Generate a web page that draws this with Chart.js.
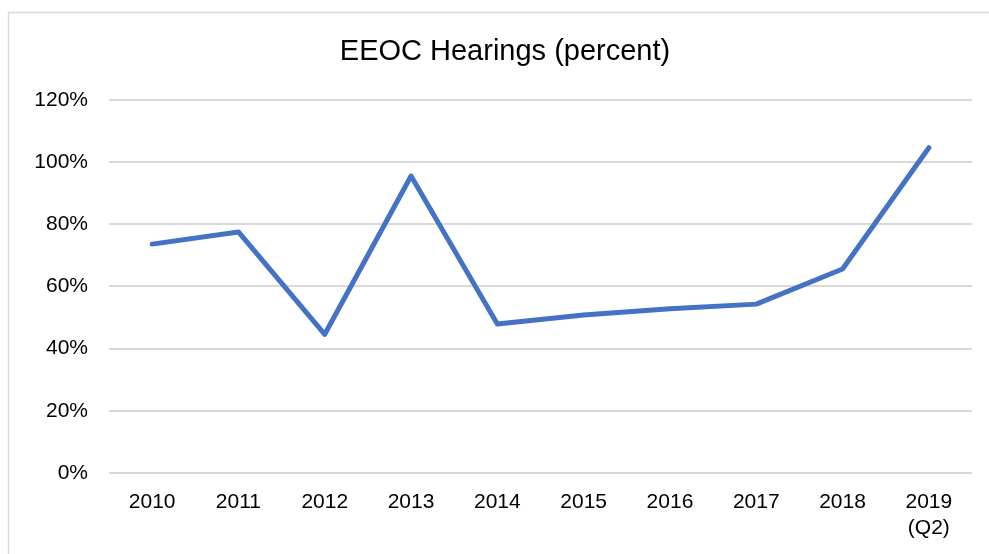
<!DOCTYPE html>
<html>
<head>
<meta charset="utf-8">
<style>
html,body{margin:0;padding:0;background:#fff;}
#wrap{width:989px;height:554px;position:relative;}
</style>
<script src="https://cdn.jsdelivr.net/npm/chart.js@4/dist/chart.umd.min.js"></script>
</head>
<body>
<div id="wrap"><canvas id="c" width="989" height="554"></canvas></div>
<script>
const categories = ["2010","2011","2012","2013","2014","2015","2016","2017","2018",["2019","(Q2)"]];
const hearingsPercent = [73.6, 77.5, 44.6, 95.5, 47.9, 50.8, 52.8, 54.3, 65.6, 104.6];
const yTicks = [0, 20, 40, 60, 80, 100, 120];
const chartTitle = "EEOC Hearings (percent)";

const FONT = "'Liberation Sans', Arial, sans-serif";

const borderPlugin = {
  id: 'frame',
  beforeDraw(chart) {
    const ctx = chart.ctx;
    ctx.save();
    ctx.strokeStyle = '#d9d9d9';
    ctx.lineWidth = 1.5;
    ctx.strokeRect(8.5, 12.5, 1000, 600);
    ctx.restore();
  }
};

const titleShift = {
  id: 'titleShift',
  afterLayout(chart) {
    const t = chart.titleBlock;
    if (t) { t.left = 38; t.right = 972; t.width = t.right - t.left; }
  }
};

new Chart(document.getElementById('c'), {
  type: 'line',
  data: {
    labels: categories,
    datasets: [{
      data: hearingsPercent,
      borderColor: '#4472C4',
      backgroundColor: '#4472C4',
      borderWidth: 5,
      pointRadius: 0,
      tension: 0,
      borderCapStyle: 'round',
      borderJoinStyle: 'round'
    }]
  },
  options: {
    responsive: false,
    animation: false,
    devicePixelRatio: 1,
    layout: { padding: { left: 0, right: 17, top: 0, bottom: 0 } },
    plugins: {
      legend: { display: false },
      tooltip: { enabled: false },
      title: {
        display: true,
        text: chartTitle,
        color: '#000',
        font: { family: FONT, size: 29, weight: 'normal', lineHeight: 1.2 },
        padding: { top: 35, bottom: 30 }
      }
    },
    scales: {
      x: {
        offset: true,
        grid: { display: false, drawTicks: false },
        border: { display: false },
        ticks: {
          color: '#000',
          font: { family: FONT, size: 21, lineHeight: 1.25 },
          padding: 16,
          maxRotation: 0,
          autoSkip: false
        },
        afterFit(scale) { scale.height = 81; }
      },
      y: {
        min: 0,
        max: 120,
        afterBuildTicks(scale) { scale.ticks = yTicks.map(v => ({ value: v })); },
        grid: { color: '#d9d9d9', lineWidth: 2, drawTicks: false },
        border: { display: false },
        ticks: {
          color: '#000',
          font: { family: FONT, size: 21 },
          padding: 21,
          callback: v => v + '%'
        },
        afterFit(scale) { scale.width = 109; }
      }
    }
  },
  plugins: [borderPlugin, titleShift]
});
</script>
</body>
</html>
